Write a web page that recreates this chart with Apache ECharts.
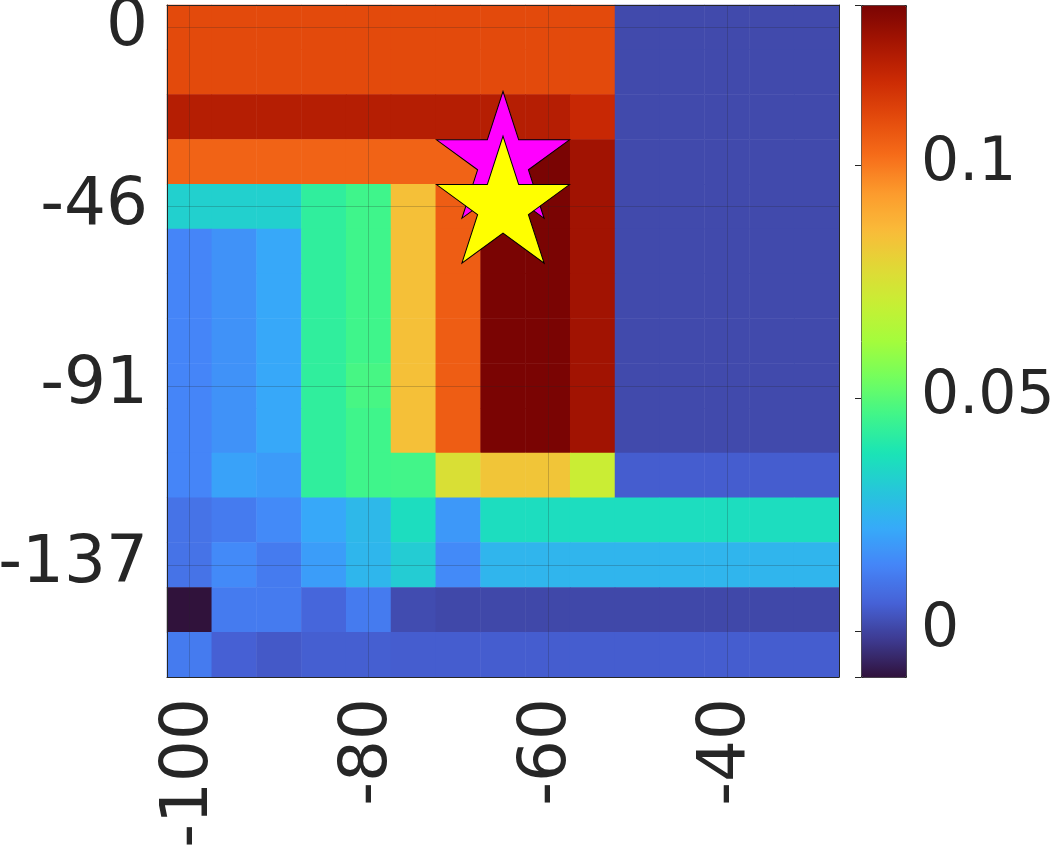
<!DOCTYPE html>
<html>
<head>
<meta charset="utf-8">
<script src="https://cdn.jsdelivr.net/npm/echarts@6/dist/echarts.min.js"></script>
<style>
  html, body { margin: 0; padding: 0; background: #fff; }
  #main { width: 1052px; height: 845px; }
</style>
</head>
<body>
<div id="main"></div>
<script>
// grid coordinates (cell centres)
const xs = [-100, -95, -90, -85, -80, -75, -70, -65, -60, -55, -50, -45, -40, -35, -30];
const ys = [0, -11.43, -22.86, -34.29, -45.71, -57.14, -68.57, -80, -91.43, -102.86, -114.29, -125.71, -137.14, -148.57, -160];

// cell values, one row per y (top to bottom)
const z = [
  [0.1103, 0.1103, 0.1103, 0.1103, 0.1103, 0.1103, 0.1103, 0.1103, 0.1103, 0.1103, 0.0013, 0.0013, 0.0013, 0.0013, 0.0013],
  [0.1103, 0.1103, 0.1103, 0.1103, 0.1103, 0.1103, 0.1103, 0.1103, 0.1103, 0.1103, 0.0013, 0.0013, 0.0013, 0.0013, 0.0013],
  [0.1229, 0.1229, 0.1229, 0.1229, 0.1229, 0.1229, 0.1229, 0.1229, 0.1229, 0.1190, 0.0013, 0.0013, 0.0013, 0.0013, 0.0013],
  [0.1043, 0.1043, 0.1043, 0.1043, 0.1043, 0.1043, 0.1043, 0.1343, 0.1343, 0.1271, 0.0013, 0.0013, 0.0013, 0.0013, 0.0013],
  [0.0328, 0.0328, 0.0328, 0.0429, 0.0462, 0.0847, 0.1056, 0.1343, 0.1343, 0.1271, 0.0013, 0.0013, 0.0013, 0.0013, 0.0013],
  [0.0141, 0.0169, 0.0218, 0.0429, 0.0462, 0.0847, 0.1056, 0.1343, 0.1343, 0.1271, 0.0013, 0.0013, 0.0013, 0.0013, 0.0013],
  [0.0141, 0.0169, 0.0218, 0.0429, 0.0462, 0.0847, 0.1056, 0.1343, 0.1343, 0.1271, 0.0013, 0.0013, 0.0013, 0.0013, 0.0013],
  [0.0141, 0.0169, 0.0218, 0.0429, 0.0462, 0.0847, 0.1056, 0.1343, 0.1343, 0.1271, 0.0013, 0.0013, 0.0013, 0.0013, 0.0013],
  [0.0141, 0.0169, 0.0218, 0.0429, 0.0475, 0.0847, 0.1056, 0.1343, 0.1343, 0.1271, 0.0013, 0.0013, 0.0013, 0.0013, 0.0013],
  [0.0141, 0.0169, 0.0218, 0.0429, 0.0462, 0.0847, 0.1056, 0.1343, 0.1343, 0.1271, 0.0013, 0.0013, 0.0013, 0.0013, 0.0013],
  [0.0141, 0.0204, 0.0188, 0.0429, 0.0462, 0.0466, 0.0759, 0.0834, 0.0834, 0.0710, 0.0052, 0.0052, 0.0052, 0.0052, 0.0052],
  [0.0100, 0.0119, 0.0153, 0.0218, 0.0262, 0.0362, 0.0182, 0.0362, 0.0362, 0.0362, 0.0362, 0.0362, 0.0362, 0.0362, 0.0362],
  [0.0100, 0.0153, 0.0119, 0.0193, 0.0255, 0.0318, 0.0153, 0.0253, 0.0253, 0.0253, 0.0253, 0.0253, 0.0253, 0.0253, 0.0253],
  [-0.0099, 0.0119, 0.0119, 0.0071, 0.0119, 0.0017, 0.0009, 0.0009, 0.0009, 0.0009, 0.0009, 0.0009, 0.0009, 0.0009, 0.0009],
  [0.0119, 0.0058, 0.0044, 0.0055, 0.0055, 0.0052, 0.0052, 0.0052, 0.0052, 0.0052, 0.0052, 0.0052, 0.0052, 0.0052, 0.0052]
];

// marker positions
const starMagenta = [-65, -34.29];
const starYellow = [-65, -45.71];

// colour range (turbo, evenly spaced stops)
const cMin = -0.0099;
const cMax = 0.1343;
const turbo = [
  '#30123b', '#3d3a90', '#4662d7', '#4585f8', '#36aaf9', '#26c6da', '#1ae4b6', '#3ff58b', '#72fe5e', '#a4fc3c',
  '#c7ef34', '#e1d836', '#faba39', '#fc9a2c', '#f66b19', '#e34a0c', '#cb2a04', '#a51502', '#7a0403'
];

const ink = '#262626';
const font = 'DejaVu Sans';
const fs = 66;    // axes tick labels
const fsBar = 60; // colorbar labels

const cells = [];
z.forEach((row, i) => row.forEach((v, j) => cells.push([j, i, v])));

function starPath() {
  let d = '';
  for (let k = 0; k < 10; k++) {
    const r = k % 2 ? 0.382 : 1;
    const a = (-90 + k * 36) * Math.PI / 180;
    d += (k ? 'L' : 'M') + (100 * r * Math.cos(a)).toFixed(2) + ' ' + (100 * r * Math.sin(a)).toFixed(2);
  }
  return 'path://' + d + 'Z';
}
const star = starPath();

const tickStyle = { inside: true, length: 7, interval: 3, alignWithLabel: true, lineStyle: { color: ink, width: 1 } };
const lineStyle = { lineStyle: { color: ink, width: 1 } };
const gridLine = { show: true, interval: 3, alignWithLabel: true, lineStyle: { color: 'rgba(38,38,38,0.22)', width: 1 } };

let myChart = echarts.init(document.getElementById('main'));
myChart.setOption({
  animation: false,
  textStyle: { fontFamily: font },
  grid: [
    { left: 167, top: 5, width: 672, height: 672, outerBoundsMode: 'none', containLabel: false },
    { left: 861, top: 5, width: 45, height: 672, outerBoundsMode: 'none', containLabel: false }
  ],
  xAxis: [
    {
      gridIndex: 0, type: 'category', data: xs.map(String), position: 'bottom', z: 5,
      axisLine: lineStyle,
      axisTick: tickStyle,
      axisLabel: { interval: 3, rotate: 90, margin: 21, fontSize: fs, color: ink, fontFamily: font },
      splitLine: gridLine
    },
    {
      gridIndex: 0, type: 'category', data: xs.map(String), position: 'top', z: 5,
      axisLine: lineStyle, axisTick: tickStyle, axisLabel: { show: false }, splitLine: { show: false }
    },
    { gridIndex: 1, type: 'value', min: 0, max: 1, show: false }
  ],
  yAxis: [
    {
      gridIndex: 0, type: 'category', data: ys.map(String), inverse: true, position: 'left', z: 5,
      axisLine: lineStyle,
      axisTick: tickStyle,
      axisLabel: {
        interval: 3, margin: 19, fontSize: fs, color: ink, fontFamily: font,
        formatter: v => String(Math.round(Number(v)))
      },
      splitLine: gridLine
    },
    {
      gridIndex: 0, type: 'category', data: ys.map(String), inverse: true, position: 'right', z: 5,
      axisLine: lineStyle, axisTick: tickStyle, axisLabel: { show: false }, splitLine: { show: false }
    },
    {
      gridIndex: 1, type: 'value', min: cMin, max: cMax, splitNumber: 3, position: 'right', z: 5,
      axisLine: { show: false },
      axisTick: { inside: true, length: 6, lineStyle: { color: ink, width: 1 } },
      splitLine: { show: false },
      axisLabel: {
        margin: 15, fontSize: fsBar, color: ink, fontFamily: font,
        formatter: v => (Math.abs(v / 0.05 - Math.round(v / 0.05)) < 1e-6 ? String(+v.toFixed(2)) : '')
      }
    }
  ],
  visualMap: {
    type: 'continuous',
    seriesIndex: 0,
    min: cMin,
    max: cMax,
    inRange: { color: turbo },
    orient: 'vertical',
    left: 861,
    top: 5,
    itemWidth: 45,
    itemHeight: 672,
    padding: 0,
    calculable: false,
    hoverLink: false,
    borderColor: ink,
    borderWidth: 1
  },
  series: [
    {
      type: 'heatmap', xAxisIndex: 0, yAxisIndex: 0, data: cells,
      itemStyle: { borderWidth: 0 },
      emphasis: { disabled: true }
    },
    {
      type: 'scatter', xAxisIndex: 0, yAxisIndex: 0, z: 10,
      data: [[xs.indexOf(starMagenta[0]), ys.indexOf(starMagenta[1])]],
      symbol: star, symbolSize: [133, 127], symbolOffset: [0, -7],
      itemStyle: { color: '#ff00ff', borderColor: '#000', borderWidth: 1, opacity: 1 }
    },
    {
      type: 'scatter', xAxisIndex: 0, yAxisIndex: 0, z: 11,
      data: [[xs.indexOf(starYellow[0]), ys.indexOf(starYellow[1])]],
      symbol: star, symbolSize: [133, 127], symbolOffset: [0, -7],
      itemStyle: { color: '#ffff00', borderColor: '#000', borderWidth: 1, opacity: 1 }
    }
  ]
});
</script>
</body>
</html>
